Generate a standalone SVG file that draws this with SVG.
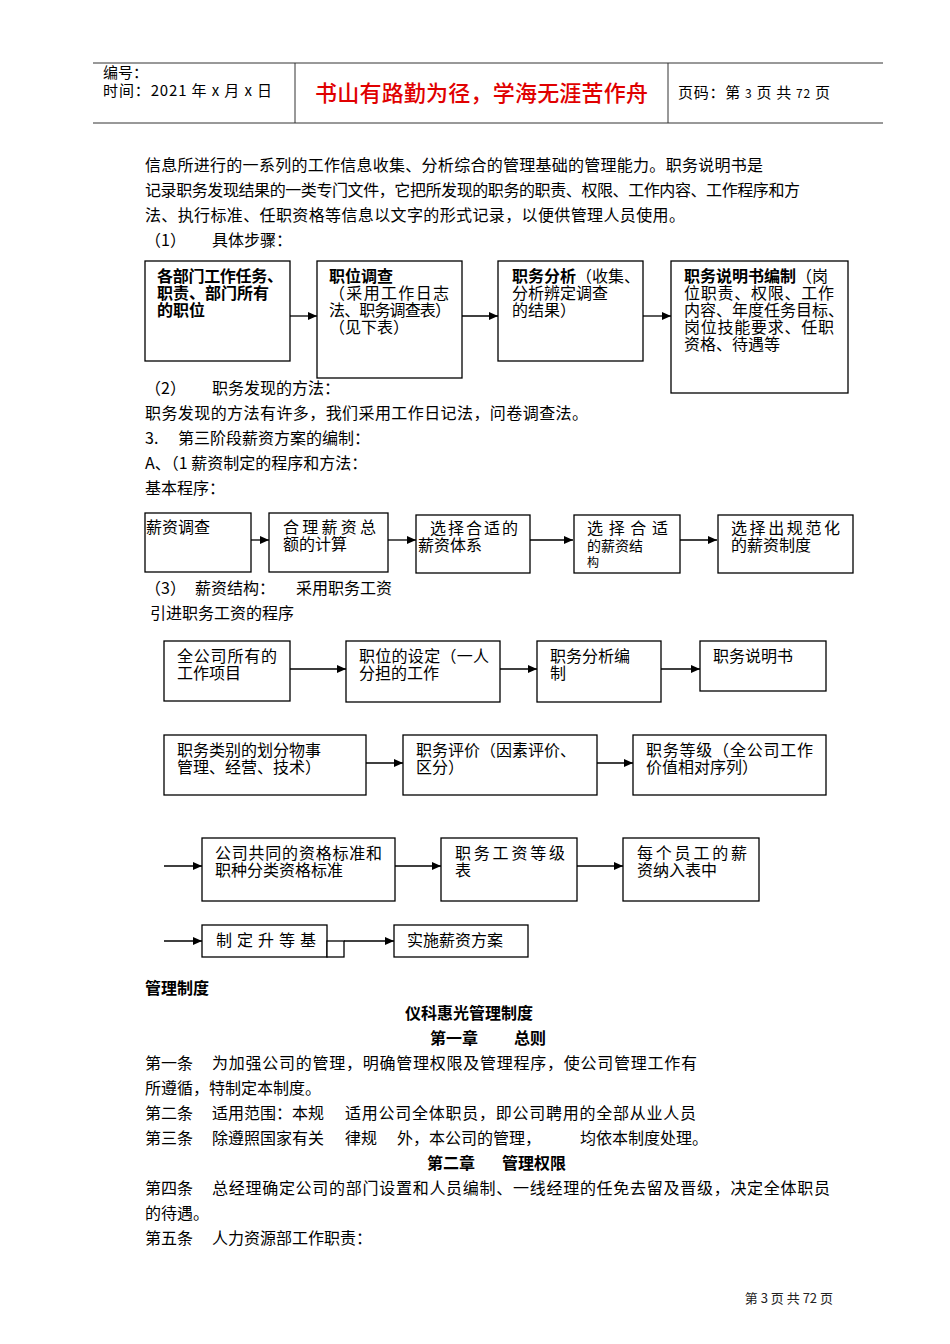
<svg xmlns="http://www.w3.org/2000/svg" width="950" height="1344" viewBox="0 0 950 1344">
<style>
text{font-family:"Noto Sans CJK SC","Liberation Sans",sans-serif;fill:#000;font-size:16px}
.b{font-weight:bold}
.h{font-size:15px}
.s14{font-size:14px}
.s12{font-size:12px}
.foot{font-size:13px;fill:#222}
.red{fill:#e00000;font-size:22px;font-weight:500}
.box{fill:#fff;stroke:#000;stroke-width:1.3}
.ln{fill:none;stroke:#000;stroke-width:1.3}
.arr{marker-end:url(#ah)}
.rule{stroke:#333;stroke-width:1}
</style>
<defs>
<marker id="ah" markerWidth="10" markerHeight="10" refX="9" refY="5" orient="auto" markerUnits="userSpaceOnUse">
<path d="M0,1 L9,5 L0,9 Z" fill="#000"/>
</marker>
</defs>
<rect width="950" height="1344" fill="#fff"/>

<g id="header">
<line class="rule" x1="93" y1="63" x2="883" y2="63"/>
<line class="rule" x1="93" y1="123" x2="883" y2="123"/>
<line class="rule" x1="295" y1="63" x2="295" y2="123"/>
<line class="rule" x1="668" y1="63" x2="668" y2="123"/>
<text class="h" x="103" y="78">编号：</text>
<text class="h" x="103" y="96" textLength="169">时间：2021 年 x 月 x 日</text>
<text class="red" x="315" y="101" textLength="333">书山有路勤为径，学海无涯苦作舟</text>
<text class="h" x="678" y="98" textLength="152">页码：第 <tspan class="s12">3</tspan> 页 共 <tspan class="s12">72</tspan> 页</text>
</g>

<g id="body-top">
<text x="145" y="171" textLength="618">信息所进行的一系列的工作信息收集、分析综合的管理基础的管理能力。职务说明书是</text>
<text x="145" y="196" textLength="655">记录职务发现结果的一类专门文件，它把所发现的职务的职责、权限、工作内容、工作程序和方</text>
<text x="145" y="221" textLength="540">法、执行标准、任职资格等信息以文字的形式记录，以便供管理人员使用。</text>
<text x="145" y="246">（1）</text>
<text x="212" y="246">具体步骤：</text>
</g>

<g id="connectors">
<line class="ln arr" x1="290" y1="316" x2="317" y2="316"/>
<line class="ln arr" x1="462" y1="316" x2="498" y2="316"/>
<line class="ln arr" x1="643" y1="316" x2="671" y2="316"/>
<line class="ln arr" x1="251" y1="540" x2="269" y2="540"/>
<line class="ln arr" x1="388" y1="540" x2="416" y2="540"/>
<line class="ln arr" x1="530" y1="540" x2="573" y2="540"/>
<line class="ln arr" x1="680" y1="540" x2="717" y2="540"/>
<line class="ln arr" x1="290" y1="669" x2="346" y2="669"/>
<line class="ln arr" x1="500" y1="669" x2="537" y2="669"/>
<line class="ln arr" x1="661" y1="669" x2="700" y2="669"/>
<line class="ln arr" x1="366" y1="763" x2="403" y2="763"/>
<line class="ln arr" x1="597" y1="763" x2="633" y2="763"/>
<line class="ln arr" x1="164" y1="866" x2="202" y2="866"/>
<line class="ln arr" x1="395" y1="866" x2="441" y2="866"/>
<line class="ln arr" x1="577" y1="866" x2="623" y2="866"/>
<line class="ln arr" x1="164" y1="941" x2="202" y2="941"/>
<line class="ln arr" x1="344" y1="941" x2="394" y2="941"/>
</g>

<g id="n1">
<rect class="box" x="145" y="261" width="145" height="100"/>
<text class="b" x="157" y="282" textLength="126">各部门工作任务、</text>
<text class="b" x="157" y="299">职责、部门所有</text>
<text class="b" x="157" y="316">的职位</text>
</g>
<g id="n2">
<rect class="box" x="317" y="261" width="145" height="117"/>
<text class="b" x="329" y="282">职位调查</text>
<text x="329" y="299" textLength="120">（采用工作日志</text>
<text x="329" y="316" textLength="122">法、职务调查表）</text>
<text x="329" y="333">（见下表）</text>
</g>
<g id="n3">
<rect class="box" x="498" y="261" width="145" height="100"/>
<text x="512" y="282"><tspan class="b">职务分析</tspan>（收集、</text>
<text x="512" y="299" textLength="96">分析辨定调查</text>
<text x="512" y="316">的结果）</text>
</g>
<g id="n4">
<rect class="box" x="671" y="261" width="177" height="132"/>
<text x="684" y="282"><tspan class="b">职务说明书编制</tspan>（岗</text>
<text x="684" y="299" textLength="150">位职责、权限、工作</text>
<text x="684" y="316" textLength="160">内容、年度任务目标、</text>
<text x="684" y="333" textLength="150">岗位技能要求、任职</text>
<text x="684" y="350">资格、待遇等</text>
</g>

<g id="body-mid">
<text x="145" y="394">（2）</text>
<text x="212" y="394">职务发现的方法：</text>
<text x="145" y="419" textLength="443">职务发现的方法有许多，我们采用工作日记法，问卷调查法。</text>
<text x="145" y="444">3.</text>
<text x="178" y="444">第三阶段薪资方案的编制：</text>
<text x="145" y="469">A、（1 薪资制定的程序和方法：</text>
<text x="145" y="494">基本程序：</text>
</g>

<g id="s1">
<rect class="box" x="145" y="513" width="106" height="59"/>
<text x="146" y="533">薪资调查</text>
</g>
<g id="s2">
<rect class="box" x="269" y="513" width="119" height="59"/>
<text x="283" y="533" textLength="93">合理薪资总</text>
<text x="283" y="550">额的计算</text>
</g>
<g id="s3">
<rect class="box" x="416" y="515" width="114" height="58"/>
<text x="430" y="534" textLength="88">选择合适的</text>
<text x="418" y="551">薪资体系</text>
</g>
<g id="s4">
<rect class="box" x="574" y="515" width="106" height="58"/>
<text x="587" y="534" textLength="81">选择合适</text>
<text class="s14" x="587" y="551">的薪资结</text>
<text class="s12" x="587" y="567">构</text>
</g>
<g id="s5">
<rect class="box" x="718" y="515" width="135" height="58"/>
<text x="731" y="534" textLength="109">选择出规范化</text>
<text x="731" y="551">的薪资制度</text>
</g>

<g id="body-mid2">
<text x="145" y="594">（3）</text>
<text x="195" y="594">薪资结构：</text>
<text x="296" y="594">采用职务工资</text>
<text x="150" y="619">引进职务工资的程序</text>
</g>

<g id="p1">
<rect class="box" x="164" y="641" width="126" height="60"/>
<text x="177" y="662" textLength="100">全公司所有的</text>
<text x="177" y="679">工作项目</text>
</g>
<g id="p2">
<rect class="box" x="346" y="641" width="154" height="61"/>
<text x="359" y="662" textLength="130">职位的设定（一人</text>
<text x="359" y="679">分担的工作</text>
</g>
<g id="p3">
<rect class="box" x="537" y="641" width="124" height="61"/>
<text x="550" y="662">职务分析编</text>
<text x="550" y="679">制</text>
</g>
<g id="p4">
<rect class="box" x="700" y="641" width="126" height="50"/>
<text x="713" y="662">职务说明书</text>
</g>

<g id="q1">
<rect class="box" x="164" y="735" width="202" height="60"/>
<text x="177" y="756">职务类别的划分物事</text>
<text x="177" y="773">管理、经营、技术）</text>
</g>
<g id="q2">
<rect class="box" x="403" y="735" width="194" height="60"/>
<text x="416" y="756" textLength="160">职务评价（因素评价、</text>
<text x="416" y="773">区分）</text>
</g>
<g id="q3">
<rect class="box" x="633" y="735" width="193" height="60"/>
<text x="646" y="756" textLength="167">职务等级（全公司工作</text>
<text x="646" y="773">价值相对序列）</text>
</g>

<g id="r1">
<rect class="box" x="202" y="838" width="193" height="63"/>
<text x="215" y="859" textLength="167">公司共同的资格标准和</text>
<text x="215" y="876">职种分类资格标准</text>
</g>
<g id="r2">
<rect class="box" x="441" y="838" width="136" height="63"/>
<text x="455" y="859" textLength="110">职务工资等级</text>
<text x="455" y="876">表</text>
</g>
<g id="r3">
<rect class="box" x="623" y="838" width="136" height="63"/>
<text x="637" y="859" textLength="110">每个员工的薪</text>
<text x="637" y="876">资纳入表中</text>
</g>

<g id="t1">
<rect class="box" x="202" y="925" width="125" height="32"/>
<rect class="box" x="327" y="941" width="17" height="16"/>
<text x="216" y="946" textLength="100">制定升等基</text>
</g>
<g id="t2">
<rect class="box" x="394" y="925" width="134" height="32"/>
<text x="407" y="946">实施薪资方案</text>
</g>

<g id="body-bottom">
<text class="b" x="145" y="994">管理制度</text>
<text class="b" x="405" y="1019">仪科惠光管理制度</text>
<text class="b" x="430" y="1044">第一章</text>
<text class="b" x="514" y="1044">总则</text>
<text x="145" y="1069">第一条</text>
<text x="212" y="1069" textLength="485">为加强公司的管理，明确管理权限及管理程序，使公司管理工作有</text>
<text x="145" y="1094">所遵循，特制定本制度。</text>
<text x="145" y="1119">第二条</text>
<text x="212" y="1119">适用范围：本规</text>
<text x="345" y="1119" textLength="351">适用公司全体职员，即公司聘用的全部从业人员</text>
<text x="145" y="1144">第三条</text>
<text x="212" y="1144">除遵照国家有关</text>
<text x="345" y="1144">律规</text>
<text x="397" y="1144">外，本公司的管理，</text>
<text x="580" y="1144">均依本制度处理。</text>
<text class="b" x="427" y="1169">第二章</text>
<text class="b" x="502" y="1169">管理权限</text>
<text x="145" y="1194">第四条</text>
<text x="212" y="1194" textLength="618">总经理确定公司的部门设置和人员编制、一线经理的任免去留及晋级，决定全体职员</text>
<text x="145" y="1219">的待遇。</text>
<text x="145" y="1244">第五条</text>
<text x="212" y="1244">人力资源部工作职责：</text>
</g>

<g id="footer">
<text class="foot" x="833" y="1303" text-anchor="end">第 3 页 共 72 页</text>
</g>
</svg>
